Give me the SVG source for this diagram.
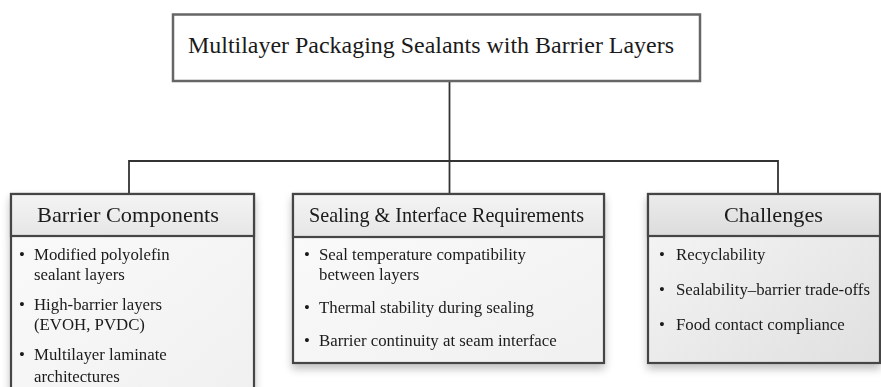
<svg xmlns="http://www.w3.org/2000/svg" width="881" height="387" viewBox="0 0 881 387">
  <defs>
    <linearGradient id="hdr" x1="0" y1="0" x2="0" y2="1">
      <stop offset="0" stop-color="#f4f4f4"/>
      <stop offset="1" stop-color="#e6e6e6"/>
    </linearGradient>
    <linearGradient id="body" x1="0" y1="0" x2="1" y2="1">
      <stop offset="0" stop-color="#fbfbfb"/>
      <stop offset="1" stop-color="#f0f0f0"/>
    </linearGradient>
    <linearGradient id="hdrDark" x1="0" y1="0" x2="0" y2="1">
      <stop offset="0" stop-color="#ececec"/>
      <stop offset="1" stop-color="#dcdcdc"/>
    </linearGradient>
    <linearGradient id="bodyDark" x1="0" y1="0" x2="1" y2="1">
      <stop offset="0" stop-color="#f6f6f6"/>
      <stop offset="1" stop-color="#e0e0e0"/>
    </linearGradient>
    <filter id="shadow" x="-10%" y="-10%" width="120%" height="130%">
      <feGaussianBlur in="SourceAlpha" stdDeviation="4"/>
      <feOffset dx="0" dy="5" result="b"/>
      <feComponentTransfer><feFuncA type="linear" slope="0.25"/></feComponentTransfer>
      <feMerge><feMergeNode/><feMergeNode in="SourceGraphic"/></feMerge>
    </filter>
  </defs>
  <style>
    .frame { stroke: #444; stroke-width: 2.2; }
    .title { font-size: 23px; fill: #1a1a1a; }
    .head { font-size: 21px; fill: #1a1a1a; text-anchor: middle; }
    .item { font-size: 16.8px; fill: #1a1a1a; }
    .wire { fill: none; stroke: #333; stroke-width: 1.8; }
  </style>

  <rect width="881" height="387" fill="#ffffff"/>

  <!-- tree connectors -->
  <g id="connectors">
    <path class="wire" d="M449.5 81 V193"/>
    <path class="wire" d="M129 193 V161 H778 V193"/>
  </g>

  <g font-family="'Liberation Serif', serif">
    <!-- root -->
    <g id="root">
      <rect x="173" y="14.5" width="527" height="66.5" fill="#ffffff" stroke="#666" stroke-width="2.5"/>
      <text class="title" x="188" y="53" textLength="486" lengthAdjust="spacingAndGlyphs">Multilayer Packaging Sealants with Barrier Layers</text>
    </g>

    <!-- left column -->
    <g id="barrier-components" filter="url(#shadow)">
      <rect class="frame" x="11" y="194" width="243" height="200" fill="url(#body)"/>
      <rect class="frame" x="11" y="194" width="243" height="42" fill="url(#hdr)"/>
      <text class="head" x="128" y="222" textLength="182" lengthAdjust="spacingAndGlyphs">Barrier Components</text>
      <text class="item" x="19" y="260">•</text>
      <text class="item" x="34" y="260">Modified polyolefin</text>
      <text class="item" x="34" y="280">sealant layers</text>
      <text class="item" x="19" y="310">•</text>
      <text class="item" x="34" y="310">High-barrier layers</text>
      <text class="item" x="34" y="330">(EVOH, PVDC)</text>
      <text class="item" x="19" y="360">•</text>
      <text class="item" x="34" y="360">Multilayer laminate</text>
      <text class="item" x="34" y="382">architectures</text>
    </g>

    <!-- middle column -->
    <g id="sealing-interface" filter="url(#shadow)">
      <rect class="frame" x="293" y="194" width="311" height="169" fill="url(#body)"/>
      <rect class="frame" x="293" y="194" width="311" height="43" fill="url(#hdr)"/>
      <text class="head" x="446.5" y="222" textLength="275" lengthAdjust="spacingAndGlyphs">Sealing &amp; Interface Requirements</text>
      <text class="item" x="304" y="260">•</text>
      <text class="item" x="319" y="260">Seal temperature compatibility</text>
      <text class="item" x="319" y="280">between layers</text>
      <text class="item" x="304" y="313">•</text>
      <text class="item" x="319" y="313">Thermal stability during sealing</text>
      <text class="item" x="304" y="346">•</text>
      <text class="item" x="319" y="346">Barrier continuity at seam interface</text>
    </g>

    <!-- right column -->
    <g id="challenges" filter="url(#shadow)">
      <rect class="frame" x="648" y="194" width="232" height="169" fill="url(#bodyDark)"/>
      <rect class="frame" x="648" y="194" width="232" height="42" fill="url(#hdrDark)"/>
      <text class="head" x="773.5" y="222" textLength="99" lengthAdjust="spacingAndGlyphs">Challenges</text>
      <text class="item" x="659" y="260">•</text>
      <text class="item" x="676" y="260">Recyclability</text>
      <text class="item" x="659" y="295">•</text>
      <text class="item" x="676" y="295">Sealability–barrier trade-offs</text>
      <text class="item" x="659" y="330">•</text>
      <text class="item" x="676" y="330">Food contact compliance</text>
    </g>
  </g>
</svg>
